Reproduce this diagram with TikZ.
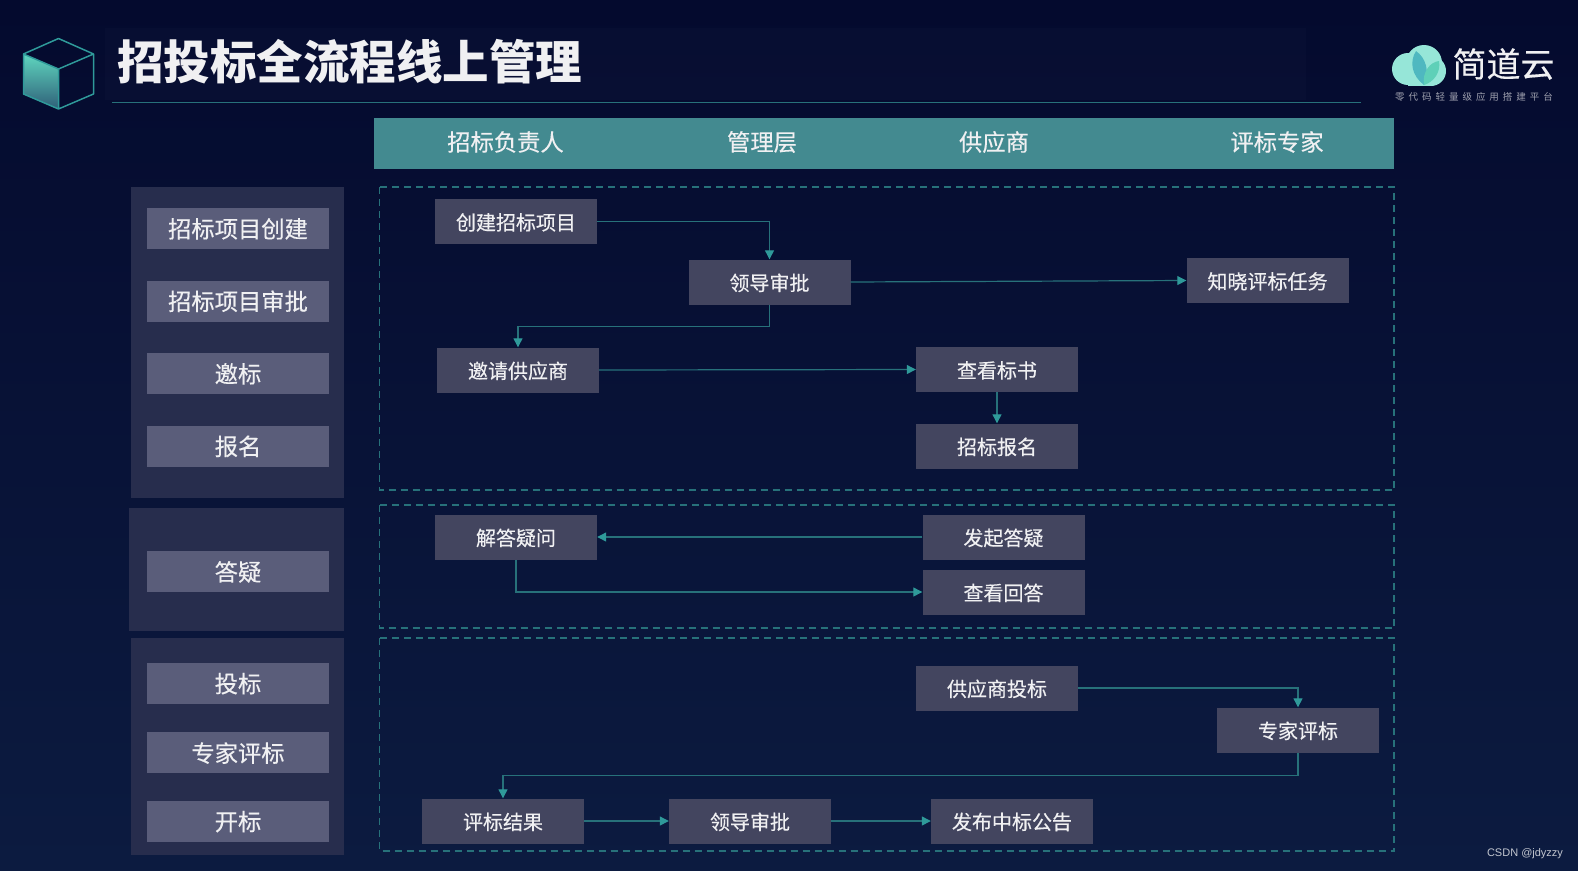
\documentclass[tikz,border=0pt]{standalone}
\usepackage{fontspec}
\setmainfont{Noto Sans CJK SC}
\newfontfamily\cjkmed[FakeBold=0.35]{Noto Sans CJK SC}
\newfontfamily\cjksub[LetterSpace=42]{Noto Sans CJK SC}
\newfontfamily\wmfont{Liberation Sans}
\usetikzlibrary{arrows.meta}
\definecolor{tealbar}{HTML}{438A90}
\definecolor{tealline}{HTML}{27717A}
\definecolor{tealtip}{HTML}{2F9A9A}
\definecolor{panelbg}{HTML}{272D4D}
\definecolor{leftbox}{HTML}{5A5D7A}
\definecolor{flowcol}{HTML}{43455F}
\definecolor{txtcol}{HTML}{F0F0F2}
\definecolor{bgtop}{HTML}{040A2E}
\definecolor{bgbot}{HTML}{0C1B40}
\definecolor{cubetop}{HTML}{5FD6BF}
\definecolor{cubebot}{HTML}{2F5F78}
\definecolor{cloudcol}{HTML}{96E6D8}
\definecolor{leafa}{HTML}{4FB8C0}
\definecolor{leafb}{HTML}{5FD0B8}
\tikzset{panelbox/.style={fill=panelbg,draw=none},
         zonebox/.style={draw=tealline,line width=1.3pt,dash pattern=on 7pt off 5pt},
         leftnode/.style={fill=leftbox,text=txtcol,font=\cjkmed\fontsize{23.3}{23.3}\selectfont,minimum width=182pt,minimum height=41pt,inner sep=0pt,text height=21pt,text depth=2.6pt},
         flownode/.style={fill=flowcol,text=txtcol,font=\cjkmed\fontsize{20}{20}\selectfont,minimum width=162pt,minimum height=45pt,inner sep=0pt,text height=19pt,text depth=2pt},
         headlab/.style={text=txtcol,font=\cjkmed\fontsize{23.3}{23.3}\selectfont,inner sep=0pt},
         flowline/.style={draw=tealline,line width=1.2pt,-{Triangle[length=9pt,width=9pt,color=tealtip]}}}

\begin{document}
\begin{tikzpicture}[x=1pt,y=-1pt]
    \useasboundingbox (0,0) rectangle (1578,870);
    \shade[top color=bgtop,bottom color=bgbot] (0,0) rectangle (1578,870);
    \fill[white,opacity=0.015] (105,28) rectangle (1306,100);
    % cube
    \shade[top color=cubetop,bottom color=cubebot] (23.5,54) -- (58.5,69) -- (58.5,109) -- (23.5,94) -- cycle;
    \draw[tealtip,line width=1.5pt,line join=round] (23.5,54) -- (58.5,38.5) -- (93.5,54) -- (93.5,94) -- (58.5,109) -- (23.5,94) -- cycle (23.5,54) -- (58.5,69) -- (93.5,54) (58.5,69) -- (58.5,109);
    \node[text=txtcol,font=\bfseries\fontsize{46.5}{46.5}\selectfont,inner sep=0pt,anchor=west] (title) at (117,62) {招投标全流程线上管理};
    \draw[tealline,line width=1pt] (112,102) -- (1361,102);
    % logo
    \fill[cloudcol] (1408,69) circle[radius=16];
    \fill[cloudcol] (1424,63) circle[radius=18];
    \fill[cloudcol] (1431,71) circle[radius=15];
    \fill[cloudcol] (1408,72) rectangle (1431,85.5);
    \fill[leafa] (1424,85) .. controls (1412,76) and (1409,62) .. (1416,51) .. controls (1426,58) and (1430,72) .. (1424,85);
    \fill[leafb] (1424,85) .. controls (1422,72) and (1430,62) .. (1439,61) .. controls (1441,72) and (1434,82) .. (1424,85);
    \node[text=txtcol,font=\cjkmed\fontsize{34}{34}\selectfont,inner sep=0pt] (brand) at (1503.5,64) {简道云};
    \node[text=txtcol!65!bgtop,font=\cjksub\fontsize{9.5}{10}\selectfont,inner sep=0pt] (slogan) at (1474,97) {零代码轻量级应用搭建平台};
    % header bar
    \fill[tealbar] (374,118) rectangle (1394,168.5);
    \foreach \x/\t in {505.5/招标负责人,762/管理层,994/供应商,1277/评标专家} \node[headlab] (h\x) at (\x,142) {\t};
    % left panels
    \fill[panelbox] (131,187) rectangle (344,498);
    \fill[panelbox] (129,508) rectangle (344,631);
    \fill[panelbox] (131,638) rectangle (344,855);
    \foreach \i/\y/\t in {1/228.5/招标项目创建,2/301/招标项目审批,3/373.5/邀标,4/446/报名,5/571.6/答疑,6/683.3/投标,7/752.8/专家评标,8/821.2/开标} \node[leftnode] (l\i) at (238,\y) {\t};
    % dashed zones
    \draw[zonebox] (379.5,187) rectangle (1394,490);
    \draw[zonebox] (379.5,505) rectangle (1394,628);
    \draw[zonebox] (379.5,638) rectangle (1394,851);
    % flow boxes
    \foreach \n/\x/\y/\t in {create/516/221.5/创建招标项目,lead/769.5/282/领导审批,notice/1267.5/280.5/知晓评标任务,invite/518/370/邀请供应商,read/997/369.5/查看标书,apply/997/446/招标报名,
      answer/516/537/解答疑问,raise/1003.5/537/发起答疑,reply/1003.5/592/查看回答,
      bid/997/688/供应商投标,expert/1298/730/专家评标,result/503/821/评标结果,leadb/750/821/领导审批,publish/1012/821/发布中标公告}
      \node[flownode] (\n) at (\x,\y) {\t};
    % connectors
    \draw[flowline] (create.east) -| (lead.north);
    \draw[flowline] (lead.east) -- (notice.west);
    \draw[flowline] (lead.south) -- ++(0,22) -| (invite.north);
    \draw[flowline] (invite.east) -- (read.west);
    \draw[flowline] (read.south) -- (apply.north);
    \draw[flowline] (raise.west) -- (answer.east);
    \draw[flowline] (answer.south) |- (reply.west);
    \draw[flowline] (bid.east) -| (expert.north);
    \draw[flowline] (expert.south) -- ++(0,23) -| (result.north);
    \draw[flowline] (result.east) -- (leadb.west);
    \draw[flowline] (leadb.east) -- (publish.west);
    \node[text=white!75!bgbot,font=\wmfont\fontsize{11}{11}\selectfont,inner sep=0pt] (mark) at (1525,853.5) {CSDN @jdyzzy};
\end{tikzpicture}
\end{document}
